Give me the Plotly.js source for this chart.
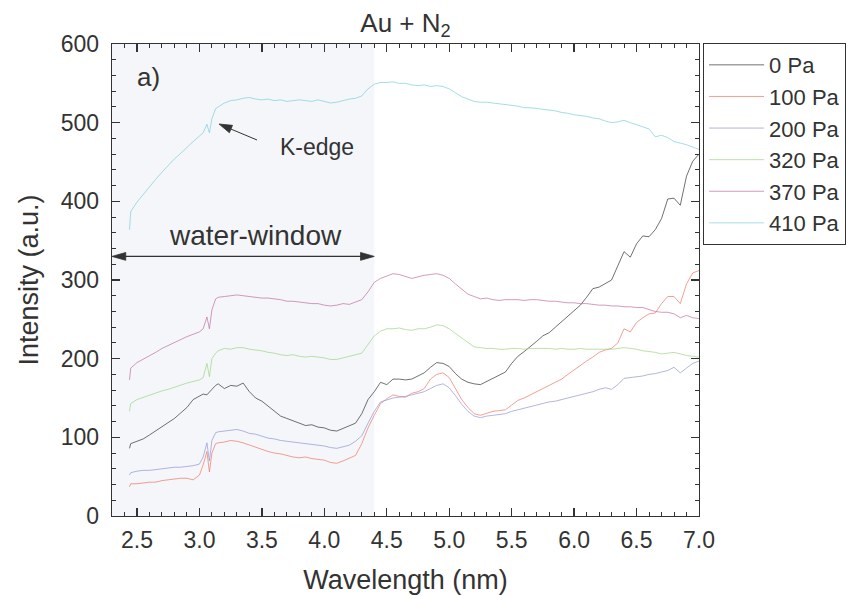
<!DOCTYPE html>
<html>
<head>
<meta charset="utf-8">
<script src="https://cdn.plot.ly/plotly-3.0.1.min.js"></script>
<style>html,body{margin:0;padding:0;background:#fff;}#chart{width:846px;height:596px;}</style>
</head>
<body>
<div id="chart"></div>
<script>
// Wavelength grid (nm)
const wavelength = [2.44,2.45,2.5,2.55,2.6,2.65,2.7,2.75,2.8,2.85,2.9,2.95,3.0,3.03,3.06,3.08,3.1,3.13,3.15,
  3.2,3.25,3.3,3.35,3.4,3.45,3.5,3.55,3.6,3.65,3.7,3.75,3.8,3.85,3.9,3.95,4.0,4.05,4.1,4.15,4.2,4.25,4.3,4.35,4.4,
  4.45,4.5,4.55,4.6,4.65,4.7,4.75,4.8,4.85,4.9,4.95,5.0,5.05,5.1,5.15,5.2,5.25,5.3,5.35,5.4,5.45,5.5,5.55,5.6,5.65,
  5.7,5.75,5.8,5.85,5.9,5.95,6.0,6.05,6.1,6.15,6.2,6.25,6.3,6.35,6.4,6.45,6.5,6.55,6.6,6.65,6.7,6.75,6.8,6.85,6.9,6.95,7.0];

const pa0 = [86,92,95,98,103,108,113,118,124,131,138,148,152,155,154,158,161,166,168,
  162,166,165,169,158,150,146,140,134,127,124,121,118,115,116,113,112,109,108,111,115,118,130,148,158,
  170,167,174,174,173,174,178,182,189,195,194,190,181,174,170,168,167,171,174,178,183,194,203,209,215,
  222,229,233,240,247,253,261,268,278,289,291,295,300,318,336,329,346,356,355,364,378,403,404,395,432,451,460];

const pa100 = [37,41,41,42,43,43,45,46,47,48,48,46,52,65,82,56,80,92,93,
  94,96,95,93,90,88,84,82,80,79,77,75,74,75,73,72,71,68,67,70,73,77,92,112,128,
  143,149,154,152,151,156,158,162,174,180,182,176,162,148,138,130,128,131,133,134,135,141,147,150,154,
  158,162,166,169,174,180,186,191,197,202,208,211,213,220,238,234,246,252,257,258,270,279,279,270,295,309,312];

const pa200 = [52,55,57,58,58,59,60,61,62,62,63,64,66,75,93,70,96,106,107,
  108,109,110,108,105,104,101,99,98,96,95,94,93,92,91,90,89,87,86,88,90,95,102,118,133,
  145,148,150,151,152,154,156,158,162,166,168,163,153,142,133,127,125,127,128,129,130,133,135,137,139,
  141,143,145,146,148,150,152,154,156,158,161,163,161,167,175,176,177,178,180,181,183,185,189,182,188,194,197];

const pa320 = [133,143,148,151,153,156,159,161,164,167,169,171,173,176,194,177,200,207,210,
  213,212,214,214,212,211,210,208,207,205,204,205,203,202,203,202,201,199,199,201,203,205,207,218,229,
  235,238,238,239,237,236,238,238,240,243,242,238,232,226,220,215,214,213,213,212,212,213,213,212,213,
  213,213,213,212,213,212,212,213,212,212,212,212,212,213,214,213,212,210,209,208,206,207,208,206,204,203,202];

const pa370 = [173,188,195,199,203,208,213,217,221,225,228,231,234,238,253,238,262,276,278,
  279,280,281,280,279,278,277,277,276,275,273,273,272,271,270,270,268,267,268,270,269,272,275,285,297,
  302,305,308,307,304,302,304,306,307,308,306,302,295,288,282,279,276,277,275,274,275,275,275,274,275,
  275,274,273,273,272,271,271,270,270,269,268,268,267,267,266,266,265,265,262,260,259,259,257,252,255,252,251];

const pa410 = [364,387,399,409,419,428,437,446,454,461,469,476,483,487,498,487,505,518,520,
  525,528,529,531,532,530,529,530,528,529,527,528,529,528,527,529,527,525,526,528,530,531,534,543,549,
  551,551,552,550,550,548,547,548,546,547,546,543,538,533,530,527,526,526,525,524,523,522,521,519,519,
  518,517,516,515,513,512,510,509,508,506,505,502,500,501,503,500,497,495,492,482,484,481,476,474,472,469,466];

const seriesNames = ['0 Pa','100 Pa','200 Pa','320 Pa','370 Pa','410 Pa'];
const seriesColors = ['#333333','#f07565','#9096d2','#9ed486','#c070a0','#7ccfd8'];
const seriesValues = [pa0, pa100, pa200, pa320, pa370, pa410];

const traces = seriesValues.map((vals, i) => ({
  x: wavelength, y: vals, type: 'scatter', mode: 'lines', name: seriesNames[i],
  line: {color: seriesColors[i], width: 0.7}
}));

const font = 'Arial, "Liberation Sans", Helvetica, sans-serif';
const txt = '#333333';
const ink = '#333333';

const axisCommon = {
  showline: true, linecolor: ink, linewidth: 1.3, mirror: 'allticks',
  ticks: 'inside', ticklen: 8, tickwidth: 1.3, tickcolor: ink,
  showgrid: false, zeroline: false,
  tickfont: {family: font, size: 23, color: txt}
};

const layout = {
  width: 846, height: 596,
  margin: {l: 112, r: 147, t: 44, b: 80, autoexpand: false},
  paper_bgcolor: '#fff', plot_bgcolor: '#fff',
  font: {family: font, color: txt},
  title: {text: 'Au + N<sub>2</sub>', font: {family: font, size: 26, color: txt},
          x: 0.5, xref: 'paper', y: 0.962, yref: 'container', yanchor: 'middle'},
  xaxis: Object.assign({}, axisCommon, {
    range: [2.3, 7.0], dtick: 0.5, tick0: 2.5, tickformat: '.1f', ticklabelstandoff: 3,
    minor: {dtick: 0.1, tick0: 2.3, ticks: 'inside', ticklen: 4, tickwidth: 1, tickcolor: ink},
    title: {text: 'Wavelength (nm)', font: {family: font, size: 27, color: txt}, standoff: 18}
  }),
  yaxis: Object.assign({}, axisCommon, {
    range: [0, 600], dtick: 100, tick0: 0, ticklabelstandoff: 7,
    minor: {dtick: 20, ticks: 'inside', ticklen: 4, tickwidth: 1, tickcolor: ink},
    title: {text: 'Intensity (a.u.)', font: {family: font, size: 27, color: txt}, standoff: 14}
  }),
  showlegend: true,
  legend: {x: 1.007, y: 1.002, xanchor: 'left', yanchor: 'top', bgcolor: '#fff',
           bordercolor: ink, borderwidth: 1, font: {family: font, size: 22, color: txt},
           itemwidth: 55, tracegroupgap: 0},
  shapes: [
    {type: 'rect', xref: 'x', yref: 'y', x0: 2.3, x1: 4.4, y0: 0, y1: 600,
     fillcolor: '#f4f6f9', line: {width: 0}, layer: 'below'},
    // water-window double arrow
    {type: 'line', xref: 'x', yref: 'y', x0: 2.38, x1: 4.32, y0: 330, y1: 330,
     line: {color: ink, width: 1.2}},
    {type: 'path', xref: 'x', yref: 'y', path: 'M2.3,330 L2.41,335 L2.41,325 Z',
     fillcolor: ink, line: {color: ink, width: 0.8}},
    {type: 'path', xref: 'x', yref: 'y', path: 'M4.4,330 L4.29,335 L4.29,325 Z',
     fillcolor: ink, line: {color: ink, width: 0.8}},
    // K-edge arrow
    {type: 'line', xref: 'x', yref: 'y', x0: 3.461, y0: 478, x1: 3.25, y1: 492,
     line: {color: ink, width: 1}},
    {type: 'path', xref: 'x', yref: 'y', path: 'M3.157,498.3 L3.265,496.6 L3.240,487.2 Z',
     fillcolor: ink, line: {color: ink, width: 0.8}}
  ],
  annotations: [
    {x: 3.45, y: 357, xref: 'x', yref: 'y', text: 'water-window', showarrow: false,
     font: {family: font, size: 28, color: txt}},
    {x: 2.59, y: 558, xref: 'x', yref: 'y', text: 'a)', showarrow: false,
     font: {family: font, size: 26, color: txt}},
    {x: 3.63, y: 469, xref: 'x', yref: 'y', text: 'K-edge', showarrow: false, xanchor: 'left',
     font: {family: font, size: 23, color: txt}}
  ]
};

Plotly.newPlot('chart', traces, layout, {staticPlot: true, displayModeBar: false});
</script>
</body>
</html>
